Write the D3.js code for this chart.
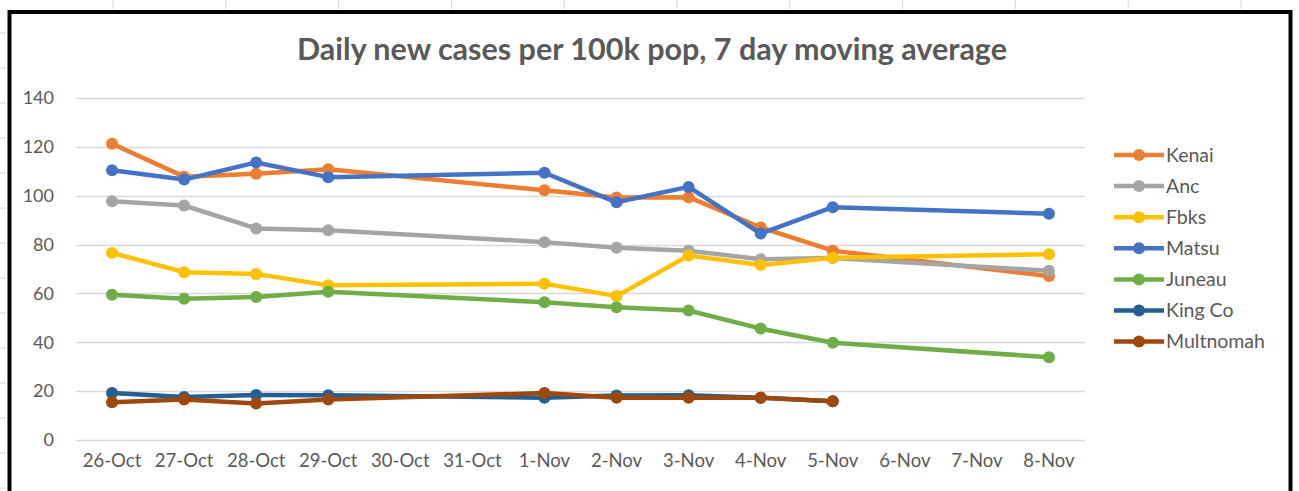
<!DOCTYPE html>
<html>
<head>
<meta charset="utf-8">
<script src="https://d3js.org/d3.v7.min.js"></script>
<style>
  html, body { margin: 0; padding: 0; background: #fff; }
  svg { display: block; font-family: Lato, "Open Sans", sans-serif; }
</style>
</head>
<body>
<svg id="chart" width="1299" height="491"></svg>

<script>
// Data
const categories = ["26-Oct", "27-Oct", "28-Oct", "29-Oct", "30-Oct", "31-Oct", "1-Nov",
  "2-Nov", "3-Nov", "4-Nov", "5-Nov", "6-Nov", "7-Nov", "8-Nov"];
const yTicks = [0, 20, 40, 60, 80, 100, 120, 140];

const seriesNames = ["Kenai", "Anc", "Fbks", "Matsu", "Juneau", "King Co", "Multnomah"];
const kenai     = [121.3, 107.8, 109.0, 110.8, null, null, 102.2, 99.3, 99.4, 87.0, 77.5, null, null, 67.1];
const anc       = [97.7, 96.0, 86.6, 85.9, null, null, 81.0, 78.7, 77.5, 74.0, 74.5, null, null, 69.3];
const fbks      = [76.6, 68.7, 68.0, 63.3, null, null, 64.0, 58.9, 75.5, 71.6, 74.6, null, null, 76.0];
const matsu     = [110.4, 106.6, 113.6, 107.6, null, null, 109.4, 97.3, 103.6, 84.5, 95.3, null, null, 92.6];
const juneau    = [59.5, 57.8, 58.5, 60.7, null, null, 56.4, 54.3, 53.0, 45.6, 39.8, null, null, 33.9];
const kingCo    = [19.2, 17.6, 18.4, 18.3, null, null, 17.3, 18.2, 18.3, 17.3, 15.9, null, null, null];
const multnomah = [15.5, 16.6, 14.9, 16.6, null, null, 19.2, 17.3, 17.3, 17.3, 15.9, null, null, null];

const seriesValues = [kenai, anc, fbks, matsu, juneau, kingCo, multnomah];
const colors = ["#ED7D31", "#A5A5A5", "#FFC000", "#4472C4", "#70AD47", "#255E91", "#9E480E"];

const textColor = "#595959";
const svg = d3.select("#chart");

// spreadsheet cell lines peeking out around the chart frame
const sheet = svg.append("g").attr("stroke", "#d4d4d4").attr("stroke-width", 1);
d3.range(113, 1299, 112.8).forEach(function(x) {
  sheet.append("line").attr("x1", x).attr("x2", x).attr("y1", 0).attr("y2", 9);
});
d3.range(33, 491, 35).forEach(function(y) {
  sheet.append("line").attr("x1", 0).attr("x2", 6).attr("y1", y).attr("y2", y);
});

// chart frame
svg.append("rect")
  .attr("x", 9.5).attr("y", 12)
  .attr("width", 1281).attr("height", 500)
  .attr("fill", "#fff")
  .attr("stroke", "#000")
  .attr("stroke-width", 4);

// title
svg.append("text")
  .attr("x", 652).attr("y", 60)
  .attr("text-anchor", "middle")
  .attr("font-size", "30.5px")
  .attr("font-weight", "bold")
  .attr("fill", textColor)
  .text("Daily new cases per 100k pop, 7 day moving average");

// scales
const xScale = d3.scaleBand()
  .domain(categories)
  .range([76, 1085]);
const xMid = function(c) { return xScale(c) + xScale.bandwidth() / 2; };

const yScale = d3.scaleLinear()
  .domain([0, 140])
  .range([440, 98]);

// gridlines
svg.append("g")
  .selectAll("line")
  .data(yTicks).enter()
  .append("line")
  .attr("x1", 76).attr("x2", 1085)
  .attr("y1", function(d) { return Math.round(yScale(d)) + 0.5; })
  .attr("y2", function(d) { return Math.round(yScale(d)) + 0.5; })
  .attr("stroke", "#D9D9D9")
  .attr("stroke-width", 1.3);

// y axis labels
const yAxis = svg.append("g")
  .attr("transform", "translate(76,0)")
  .call(d3.axisLeft(yScale).tickValues(yTicks).tickSize(0).tickPadding(22));
yAxis.select(".domain").remove();
yAxis.selectAll("text")
  .attr("font-family", "Lato, sans-serif")
  .attr("font-size", "18px")
  .attr("fill", textColor);

// x axis labels
const xAxis = svg.append("g")
  .attr("transform", "translate(0,440)")
  .call(d3.axisBottom(xScale).tickSize(0).tickPadding(14));
xAxis.select(".domain").remove();
xAxis.selectAll("text")
  .attr("font-family", "Lato, sans-serif")
  .attr("font-size", "18.5px")
  .attr("fill", textColor);

// lines + markers; missing days are skipped and the line joins the neighbours
const line = d3.line()
  .x(function(d) { return xMid(d.cat); })
  .y(function(d) { return yScale(d.v); });

seriesValues.forEach(function(vals, i) {
  const pts = categories
    .map(function(c, j) { return { cat: c, v: vals[j] }; })
    .filter(function(d) { return d.v !== null; });

  svg.append("path")
    .datum(pts)
    .attr("d", line)
    .attr("fill", "none")
    .attr("stroke", colors[i])
    .attr("stroke-width", 4.5)
    .attr("stroke-linejoin", "round")
    .attr("stroke-linecap", "round");

  svg.append("g")
    .selectAll("circle")
    .data(pts).enter()
    .append("circle")
    .attr("cx", function(d) { return xMid(d.cat); })
    .attr("cy", function(d) { return yScale(d.v); })
    .attr("r", 6)
    .attr("fill", colors[i]);
});

// legend
const legend = svg.append("g")
  .selectAll("g")
  .data(seriesNames).enter()
  .append("g")
  .attr("transform", function(d, i) { return "translate(1114," + (155 + i * 31.1) + ")"; });

legend.append("line")
  .attr("x1", 0).attr("x2", 50)
  .attr("stroke", function(d, i) { return colors[i]; })
  .attr("stroke-width", 4.5);

legend.append("circle")
  .attr("cx", 25).attr("r", 6)
  .attr("fill", function(d, i) { return colors[i]; });

legend.append("text")
  .attr("x", 52)
  .attr("dy", "0.35em")
  .attr("font-size", "19.5px")
  .attr("fill", textColor)
  .text(function(d) { return d; });
</script>
</body>
</html>
